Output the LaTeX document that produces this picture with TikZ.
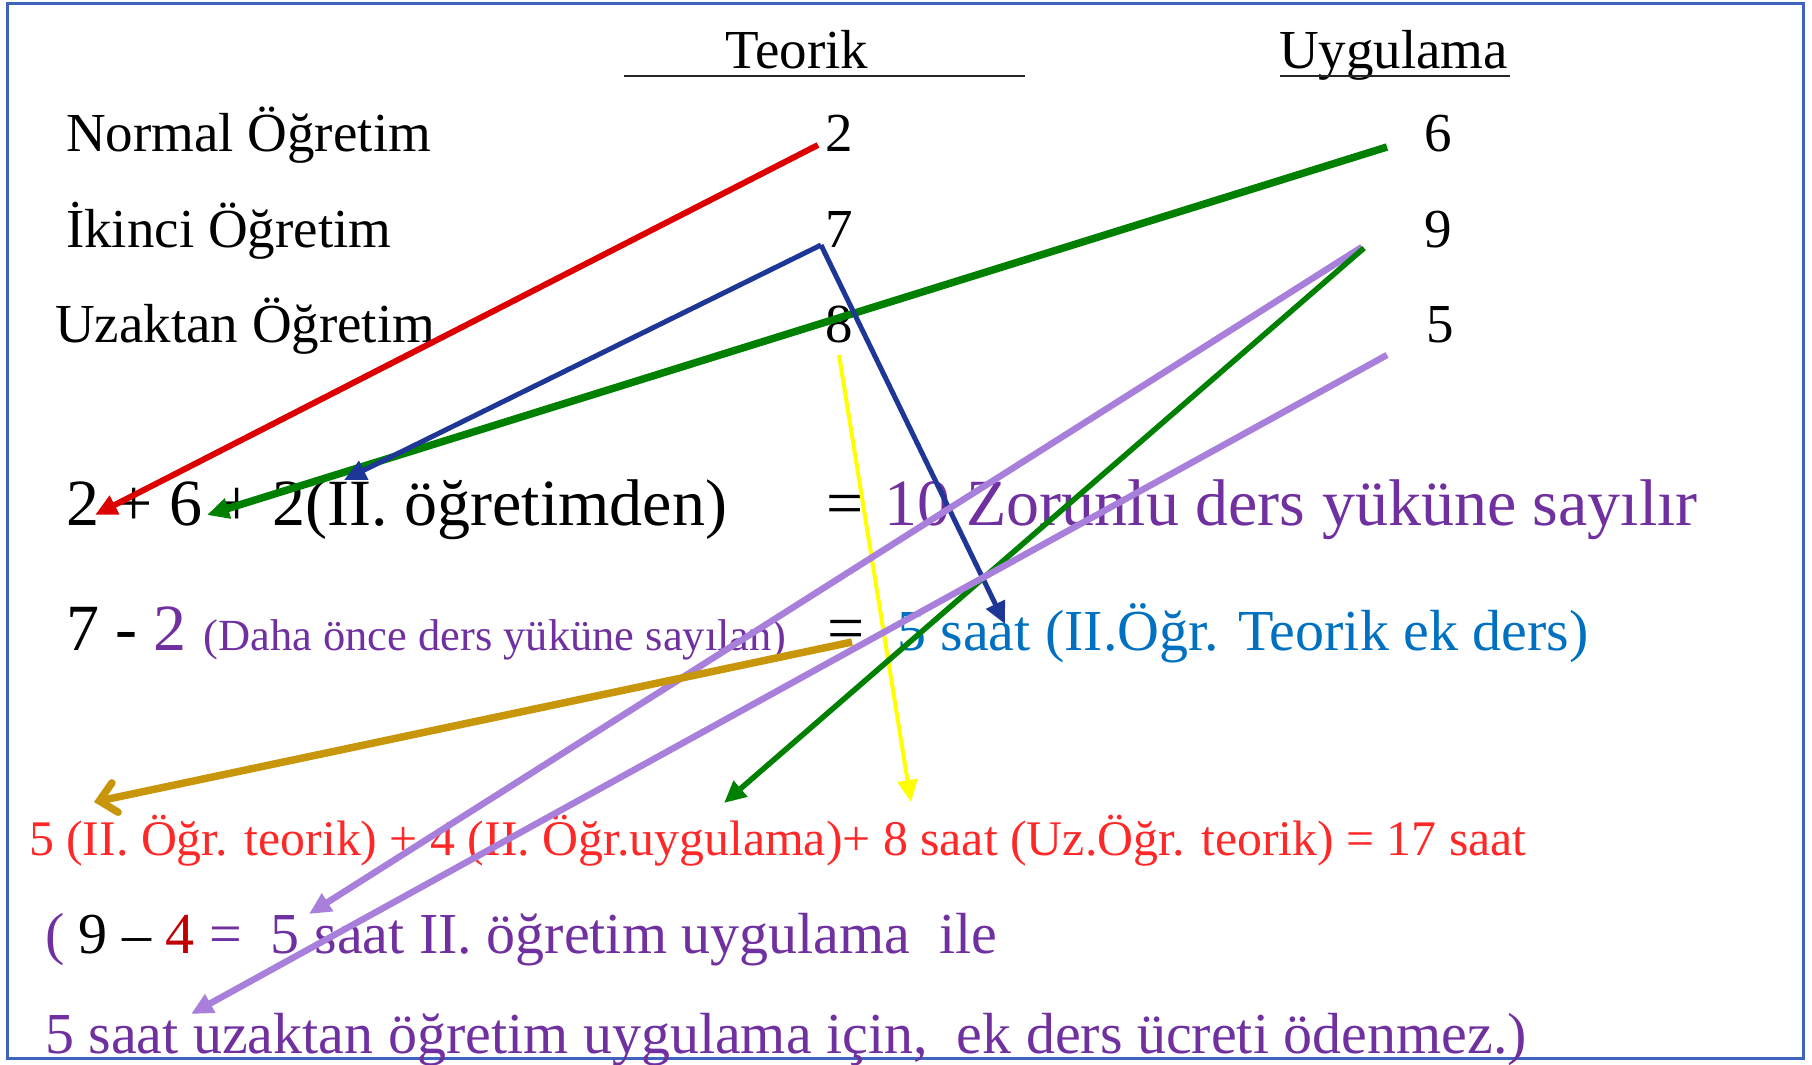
\documentclass[tikz,border=0pt]{standalone}
\usepackage{fontspec}
\setmainfont{Liberation Serif}
\usetikzlibrary{arrows.meta}
\definecolor{frameblue}{RGB}{62,100,190}
\definecolor{txtpurple}{RGB}{112,48,160}
\definecolor{txtblue}{RGB}{0,112,192}
\definecolor{txtred}{RGB}{255,40,40}
\definecolor{darkred}{RGB}{192,0,0}
\definecolor{lred}{RGB}{220,0,0}
\definecolor{lgreen}{RGB}{0,128,0}
\definecolor{lblue}{RGB}{30,55,150}
\definecolor{lyellow}{RGB}{255,255,0}
\definecolor{lpurple}{RGB}{168,128,220}
\definecolor{lgold}{RGB}{200,150,10}
\newcommand\fsz[1]{\fontsize{#1}{#1}\selectfont}
\begin{document}
\begin{tikzpicture}[x=1pt,y=-1pt,
  txt/.style={inner sep=0pt, outer sep=0pt, anchor=base west},
  tip/.style={-{Triangle[length=22pt,width=20pt]}},
  uline/.style={draw=black!85, line width=2.5pt}]
\useasboundingbox (0,0) rectangle (1812,1065);
\draw[frameblue, line width=3pt] (7,4) rectangle (1803,1058);

% headers
\node[txt, anchor=base, font=\fsz{55}] (teorik) at (797,69) {Teorik};
\node[txt, font=\fsz{55}] (uyg) at (1279,69) {Uygulama};
\draw[uline] (624,76) -- (1025,76);
\draw[uline] (1280,76) -- (1510,76);

% table
\node[txt, font=\fsz{55}] (normal) at (66,151) {Normal Öğretim};
\node[txt, font=\fsz{55}] (ikinci) at (66,247) {İkinci Öğretim};
\node[txt, font=\fsz{55}] (uzak) at (55,342) {Uzaktan Öğretim};
\node[txt, anchor=base east, font=\fsz{55}] (t2) at (853,151) {2};
\node[txt, anchor=base east, font=\fsz{55}] (t7) at (853,247) {7};
\node[txt, anchor=base east, font=\fsz{55}] (t8) at (853,342) {8};
\node[txt, font=\fsz{55}] (u6) at (1424,151) {6};
\node[txt, font=\fsz{55}] (u9) at (1424,247) {9};
\node[txt, font=\fsz{55}] (u5) at (1426,342) {5};

% equation rows
\node[txt, font=\fsz{66}] (eq1) at (66,525) {2 + 6 + 2(II. öğretimden)};
\node[txt, font=\fsz{66}] (eq1b) at (826,525) {=};
\node[txt, font=\fsz{66}, text=txtpurple] (eq1c) at (884,525) {10 Zorunlu ders yüküne sayılır};

\node[txt, font=\fsz{66}] (eq2) at (66,650) {7 - \textcolor{txtpurple}{2} \fsz{44.5}\textcolor{txtpurple}{(Daha önce ders yüküne sayılan)}};
\node[txt, font=\fsz{66}] (eq2b) at (827,650) {=};
\node[txt, font=\fsz{58}, text=txtblue] (eq2c) at (897,650) {5 saat (II.Öğr. Teorik ek ders)};

\node[txt, font=\fsz{49.8}, text=txtred] (eq3) at (29,855) {5 (II. Öğr. teorik) + 4 (II. Öğr.uygulama)+ 8 saat (Uz.Öğr. teorik) = 17 saat};

\node[txt, font=\fsz{58}, text=txtpurple] (eq4) at (45,953) {( \textcolor{black}{9 – }\textcolor{darkred}{4} = \ 5 saat II. öğretim uygulama \ ile};
\node[txt, font=\fsz{58}, text=txtpurple] (eq5) at (45,1053) {5 saat uzaktan öğretim uygulama için, \ ek ders ücreti ödenmez.)};

% connector end points
\coordinate (r0) at (818,145);  \coordinate (r1) at (95,515);
\coordinate (bp) at (821,245);  \coordinate (b1) at (344,480); \coordinate (b2) at (1005,624);
\coordinate (g0) at (1387,147); \coordinate (g1) at (207,515);
\coordinate (h0) at (1364,248); \coordinate (h1) at (724,803);
\coordinate (p0) at (1362,247); \coordinate (p1) at (309,914);
\coordinate (q0) at (1387,355); \coordinate (q1) at (191,1014);
\coordinate (y0) at (839,355);  \coordinate (y1) at (911,802);
\coordinate (k0) at (852,642);  \coordinate (k1) at (94,802);

% connectors
\draw[tip, lred, line width=6pt] (r0) -- (r1);
\draw[tip, lgreen, line width=7.5pt] (g0) -- (g1);
\draw[tip, lblue, line width=5pt] (bp) -- (b1);
\draw[tip, lblue, line width=5pt] (bp) -- (b2);
\draw[tip, lyellow, line width=4pt] (y0) -- (y1);
\draw[tip, lpurple, line width=6.5pt] (p0) -- (p1);
\draw[tip, lgreen, line width=5.5pt] (h0) -- (h1);
\draw[tip, lpurple, line width=6.5pt] (q0) -- (q1);
\draw[-{Straight Barb[length=16pt,width=30pt,line cap=round]}, lgold, line width=7.5pt] (k0) -- (k1);
\end{tikzpicture}
\end{document}
